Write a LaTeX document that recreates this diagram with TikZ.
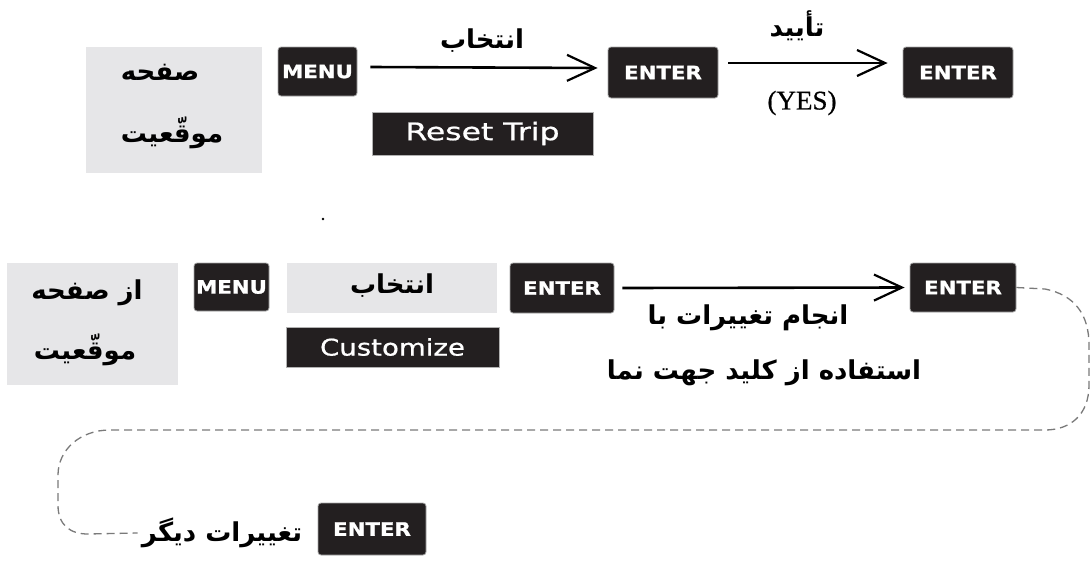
\documentclass[tikz,border=0pt]{standalone}
\usepackage{fontspec}
\usepackage{graphicx}
\usetikzlibrary{arrows.meta}
\TeXXeTstate=1
\newfontfamily\arabicfont[Script=Arabic]{DejaVu Sans}
\newfontfamily\keyfont[FakeStretch=1.15,FakeBold=1.2]{DejaVu Sans Bold}
\newfontfamily\lcdfont[FakeStretch=1.2,FakeBold=0.8]{DejaVu Sans}
\newfontfamily\yesfont[FakeBold=0.6]{Liberation Serif}
\newcommand{\fa}[1]{\beginR #1\endR}
\definecolor{keyfill}{HTML}{231F20}
\definecolor{panel}{HTML}{E6E6E8}
\definecolor{dashc}{HTML}{7A7A7A}
\begin{document}
\begin{tikzpicture}[x=1pt,y=-1pt,
 key/.style={draw=gray!70, line width=0.8pt, fill=keyfill, rounded corners=3pt, text=white, font=\keyfont\fontsize{18.5}{18.5}\selectfont, inner sep=0pt},
 panelbox/.style={fill=panel, inner sep=0pt},
 lcd/.style={fill=keyfill, draw=gray!60, line width=0.8pt, text=white, font=\lcdfont\fontsize{23}{23}\selectfont, inner sep=0pt},
 fatext/.style={font=\arabicfont\bfseries\fontsize{26}{26}\selectfont, inner sep=0pt},
 flow/.style={line width=2.6pt, -{Straight Barb[length=28pt,width=26pt,line width=2.2pt]}},
 loop/.style={draw=dashc, line width=1.3pt, dash pattern=on 8pt off 5pt}
]
\useasboundingbox (0,0) rectangle (1091,562);
% top row
\node[panelbox, minimum width=176pt, minimum height=126pt] (panel1) at (174,110) {};
\node[fatext] (t1a) at (160,72) {\fa{صفحه}};
\node[fatext] (t1b) at (172,133) {\fa{موقّعیت}};
\node[key, minimum width=79pt, minimum height=49pt] (menu1) at (317.5,71.5) {MENU};
\node[key, minimum width=110pt, minimum height=51pt] (enter1) at (663,72.5) {ENTER};
\node[key, minimum width=110pt, minimum height=51pt] (enter2) at (958,72.5) {ENTER};
\node[lcd, minimum width=221pt, minimum height=43pt] (reset) at (482.5,133.5) {\scalebox{1.14}[1.05]{Reset Trip}};
\draw[flow] ([xshift=13pt,yshift=4.5pt]menu1.east) -- ([xshift=-10pt,yshift=4.5pt]enter1.west);
\draw[flow] ([xshift=10pt,yshift=9.5pt]enter1.east) -- ([xshift=-15pt,yshift=9.5pt]enter2.west);
\node[fatext] (sel1) at (482,41) {\fa{انتخاب}};
\node[fatext] (conf) at (797,26) {\fa{تأیید}};
\node[font=\yesfont\fontsize{27}{27}\selectfont, inner sep=0pt] (yes) at (802,103) {(YES)};
\fill (323,219) circle (1.3pt) coordinate (dot);
% bottom row
\node[panelbox, minimum width=171pt, minimum height=122pt] (panel2) at (92.5,324) {};
\node[fatext] (t2a) at (87,293) {\fa{از صفحه}};
\node[fatext] (t2b) at (85,350) {\fa{موقّعیت}};
\node[key, minimum width=75pt, minimum height=48pt] (menu2) at (231.5,287) {MENU};
\node[panelbox, minimum width=210pt, minimum height=50pt] (panel3) at (392,288) {};
\node[fatext] (sel2) at (392,286) {\fa{انتخاب}};
\node[lcd, minimum width=213pt, minimum height=40pt] (custom) at (392.5,347) {Customize};
\node[key, minimum width=104pt, minimum height=50pt] (enter3) at (562,288) {ENTER};
\node[key, minimum width=106pt, minimum height=49pt] (enter4) at (963,287.5) {ENTER};
\draw[flow] ([xshift=8pt]enter3.east) -- ([xshift=-5pt]enter4.west);
\node[fatext] (chg1) at (748,318) {\fa{انجام تغییرات با}};
\node[fatext] (chg2) at (764,373) {\fa{استفاده از کلید جهت نما}};
\node[key, minimum width=108pt, minimum height=52pt] (enter5) at (372,529) {ENTER};
\node[fatext] (other) at (222,533) {\fa{تغییرات دیگر}};
\draw[loop] (enter4.east) -- (1045,289) .. controls (1075,295) and (1089,315) .. (1089,345) -- (1089,385) .. controls (1089,415) and (1070,430) .. (1045,430) -- (110,430) .. controls (80,430) and (58,450) .. (58,475) -- (58,505) .. controls (58,525) and (70,534) .. (88,534) -- ([xshift=-4pt]other.west);
\end{tikzpicture}
\end{document}
